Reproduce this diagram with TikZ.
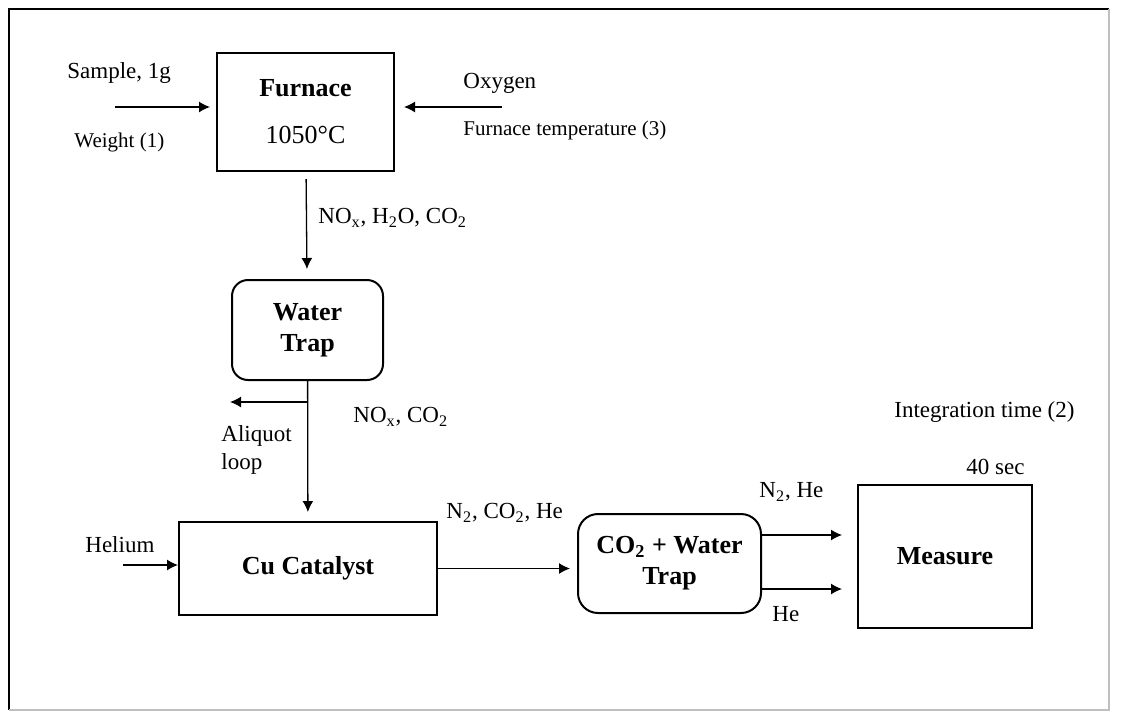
\documentclass[tikz,border=0pt]{standalone}
\usepackage{fontspec}
\setmainfont{Liberation Serif}
\usetikzlibrary{arrows.meta}

\begin{document}
\begin{tikzpicture}
		[x=0.5pt,y=-0.5pt,
		every node/.style={font=\fontsize{11.5}{14}\selectfont,inner sep=0pt},
		box/.style={draw,line width=1pt,align=center,font=\fontsize{13}{15.5}\selectfont\bfseries},
		trapbox/.style={box,rounded corners=8pt},
		lbl/.style={anchor=west},
		small/.style={lbl,font=\fontsize{10.5}{12}\selectfont},
		flow/.style={-{Latex[length=5.5pt,width=5.5pt]},line width=0.65pt}]
		\useasboundingbox (0,0) rectangle (1128,713);
		\draw[line width=0.8pt] (9,710) -- (9,9) -- (1109,9);
		\draw[black!25,line width=0.6pt] (1109,9) -- (1109,710) -- (9,710);
		
		\node[box,minimum width=88.5pt,minimum height=59pt] (furnace) at (305.5,112) {Furnace\\[8pt]{\mdseries 1050°C}};
		\node[trapbox,minimum width=75.5pt,minimum height=50pt] (water) at (307.5,330) {Water\\Trap};
		\node[box,minimum width=129pt,minimum height=46.5pt] (cu) at (308,568.5) {Cu Catalyst};
		\node[trapbox,rounded corners=10pt,minimum width=91.5pt,minimum height=49.5pt] (trap) at (669.5,563.5) {CO\textsubscript{2} + Water\\Trap};
		\node[box,minimum width=87pt,minimum height=71.5pt] (measure) at (945,556.5) {Measure};
		
		\coordinate (sample) at (115,107);
		\coordinate (oxygen) at (502,107);
		\coordinate (aliquot) at (230,402);
		\coordinate (helium) at (123,565);
		\coordinate (n2he) at (842,535);
		\coordinate (he) at (842,589);
		
		\draw[flow,shorten >=3pt] (sample) -- (sample -| furnace.west);
		\draw[flow,shorten >=4.5pt] (oxygen) -- (oxygen -| furnace.east);
		\draw[flow,shorten <=3.5pt,shorten >=5pt] (furnace) -- (water);
		\draw[flow,shorten >=4.5pt] (water) -- (cu);
		\draw[flow] (water.south |- aliquot) -- (aliquot);
		\draw[flow] (helium) -- (helium -| cu.west);
		\draw[flow,shorten >=3.5pt] (cu) -- (cu -| trap.west);
		\draw[flow] (trap.east |- n2he) -- (n2he);
		\draw[flow] (trap.east |- he) -- (he);
		
		\node[lbl] (samplelbl) at (67,73) {Sample, 1g};
		\node[small] (weightlbl) at (74,142) {Weight (1)};
		\node[lbl] (oxygenlbl) at (463,83) {Oxygen};
		\node[small] (templbl) at (463,130) {Furnace temperature (3)};
		\node[lbl] (gaslbl) at (318,218) {NO\textsubscript{x}, H\textsubscript{2}O, CO\textsubscript{2}};
		\node[lbl,align=left] (aliquotlbl) at (221,450) {Aliquot\\loop};
		\node[lbl] (noxlbl) at (353,417) {NO\textsubscript{x}, CO\textsubscript{2}};
		\node[lbl] (heliumlbl) at (85,545) {Helium};
		\node[lbl] (cuoutlbl) at (446,513) {N\textsubscript{2}, CO\textsubscript{2}, He};
		\node[lbl] (n2helbl) at (759,492) {N\textsubscript{2}, He};
		\node[lbl] (helbl) at (772,614) {He};
		\node[lbl] (intlbl) at (894,412) {Integration time (2)};
		\node[lbl] (seclbl) at (966,467) {40 sec};
		
		\end{tikzpicture}
\end{document}
